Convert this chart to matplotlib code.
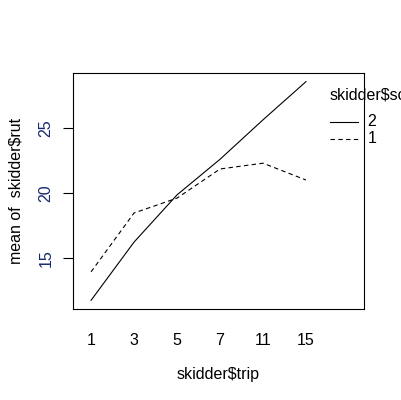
import numpy as np
import matplotlib.pyplot as plt

plt.rcParams['font.family'] = ['Liberation Sans', 'DejaVu Sans']

# interaction plot data: mean of skidder$rut by trip, per skidder$sc level
trips = ['1', '3', '5', '7', '11', '15']
sc_levels = ['2', '1']
rut_sc2 = [11.7, 16.2, 19.85, 22.6, 25.65, 28.6]
rut_sc1 = [13.9, 18.45, 19.6, 21.85, 22.3, 21.0]

fs = 11.5
fig = plt.figure(figsize=(4.01, 4.0), dpi=100)
ax = fig.add_axes([73/401, 91/400, 291/401, 236/400])

x = np.arange(1, len(trips) + 1)
ax.plot(x, rut_sc2, color='black', lw=0.8, ls='-', label=sc_levels[0])
ax.plot(x, rut_sc1, color='black', lw=0.8, ls=(0, (4, 3)), label=sc_levels[1])

ax.set_xlim(0.58, 7.35)
ax.set_ylim(11.03, 29.27)
ax.set_yticks([15, 20, 25])
ax.set_yticklabels(['15', '20', '25'], rotation=90, va='center', color='#14286e', fontsize=fs)
ax.set_xticks(x)
ax.set_xticklabels(trips, fontsize=fs)
ax.tick_params(axis='x', length=0, pad=17)
ax.tick_params(axis='y', length=7, width=0.8, pad=7)
for s in ax.spines.values():
    s.set_linewidth(0.8)

ax.set_xlabel('skidder$trip', fontsize=fs, labelpad=14)
ax.set_ylabel('mean of  skidder$rut', fontsize=fs, labelpad=11)

# legend drawn like R's interaction.plot (extends past the figure edge)
ax.text(6.55, 27.6, 'skidder$sc', fontsize=fs, va='center', ha='left', clip_on=False)
ax.plot([6.55, 7.2], [25.5, 25.5], color='black', lw=0.8, clip_on=False)
ax.plot([6.55, 7.2], [24.2, 24.2], color='black', lw=0.8, ls=(0, (4, 3)), clip_on=False)
ax.text(7.43, 25.5, sc_levels[0], fontsize=fs, va='center', ha='left', clip_on=False)
ax.text(7.43, 24.2, sc_levels[1], fontsize=fs, va='center', ha='left', clip_on=False)

fig.savefig('out.png', dpi=100)
